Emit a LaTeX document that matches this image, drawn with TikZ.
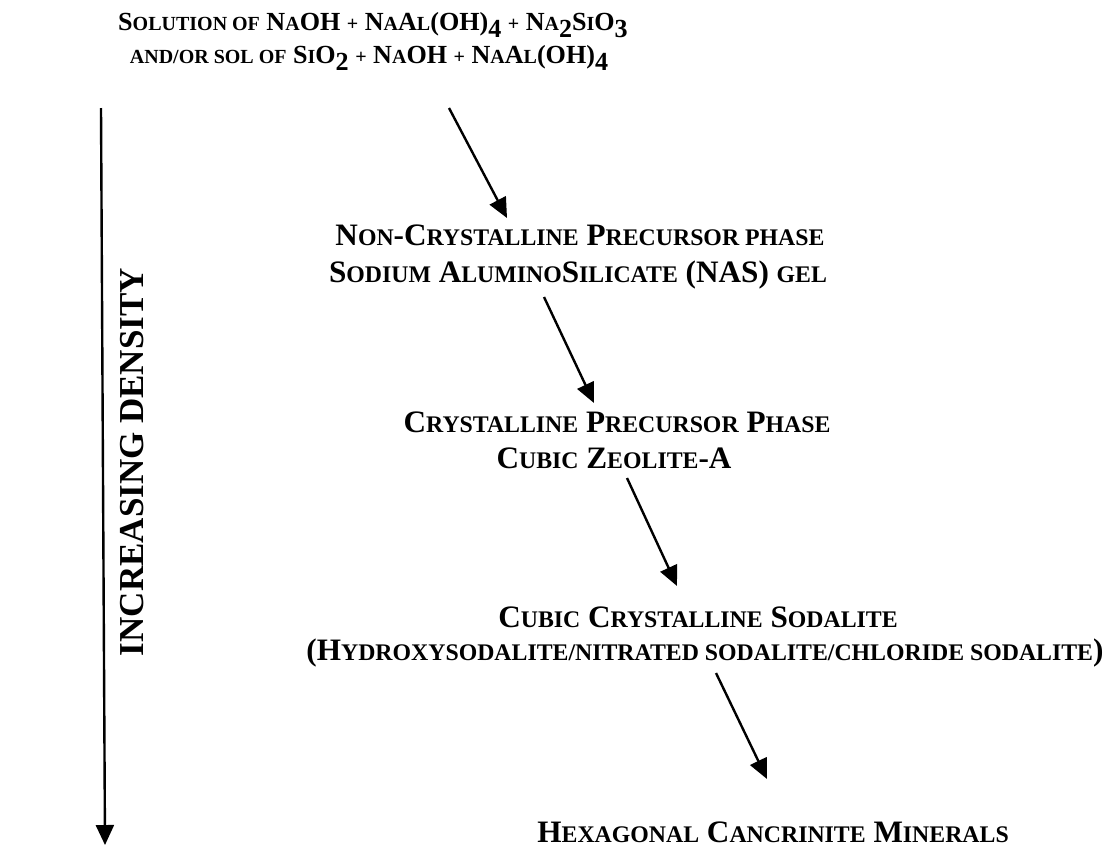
\documentclass[tikz,border=0pt]{standalone}
\usepackage{fontspec}
\setmainfont{Liberation Serif}[BoldFont={Liberation Serif Bold}]
\newfontfamily\tnr{Liberation Serif}[BoldFont={Liberation Serif Bold}]
\usetikzlibrary{arrows.meta}

\newcommand\lo[1]{{\fontsize{11.9}{14}\selectfont #1}}
\newcommand\tlo[1]{{\fontsize{10}{11}\selectfont #1}}
\newcommand\dn[1]{\raisebox{-3.5pt}{#1}}

\tikzset{
  stage/.style={font=\tnr\bfseries\fontsize{15.6}{18}\selectfont,anchor=base,inner sep=0pt},
  head/.style={font=\tnr\bfseries\fontsize{13.05}{14}\selectfont,anchor=base,inner sep=0pt},
  flow/.style={line width=1.2pt,-{Triangle[length=10pt,width=9pt]}}
}

\begin{document}
\begin{tikzpicture}[x=0.5pt,y=-0.5pt]
\useasboundingbox (0,0) rectangle (1114,847);

\node[head] (sol1) at (373,30) {S\tlo{OLUTION OF} N\tlo{A}OH \tlo{+} N\tlo{A}A\tlo{L}(OH)\dn{4} \tlo{+} N\tlo{A}\dn{2}S\tlo{I}O\dn{3}};
\node[head] (sol2) at (369,63) {\tlo{AND/OR SOL OF} S\tlo{I}O\dn{2} \tlo{+} N\tlo{A}OH \tlo{+} N\tlo{A}A\tlo{L}(OH)\dn{4}};

\node[stage] (gel1) at (580,245) {N\lo{ON}-C\lo{RYSTALLINE} P\lo{RECURSOR PHASE}};
\node[stage] (gel2) at (578,282) {S\lo{ODIUM} A\lo{LUMINO}S\lo{ILICATE} (NAS) \lo{GEL}};

\node[stage] (zeo1) at (617,432) {C\lo{RYSTALLINE} P\lo{RECURSOR} P\lo{HASE}};
\node[stage] (zeo2) at (614,468) {C\lo{UBIC} Z\lo{EOLITE}-A};

\node[stage] (sod1) at (698,627) {C\lo{UBIC} C\lo{RYSTALLINE} S\lo{ODALITE}};
\node[stage] (sod2) at (705,660) {(H\lo{YDROXYSODALITE/NITRATED SODALITE/CHLORIDE SODALITE})};

\node[stage,anchor=base west] (can) at (537,842) {H\lo{EXAGONAL} C\lo{ANCRINITE} M\lo{INERALS}};

\node[font=\tnr\bfseries\fontsize{17.5}{20}\selectfont,rotate=90,anchor=base,inner sep=0pt] (dens) at (143,462) {INCREASING DENSITY};

\coordinate (a1s) at (449,108); \coordinate (a1e) at (507,218);
\coordinate (a2s) at (544,297); \coordinate (a2e) at (594,403);
\coordinate (a3s) at (627,478); \coordinate (a3e) at (677,586);
\coordinate (a4s) at (716,673); \coordinate (a4e) at (767,779);
\coordinate (ds) at (101,108); \coordinate (de) at (105,845);

\draw[flow] (a1s) -- (a1e);
\draw[flow] (a2s) -- (a2e);
\draw[flow] (a3s) -- (a3e);
\draw[flow] (a4s) -- (a4e);
\draw[flow] (ds) -- (de);
\end{tikzpicture}
\end{document}
